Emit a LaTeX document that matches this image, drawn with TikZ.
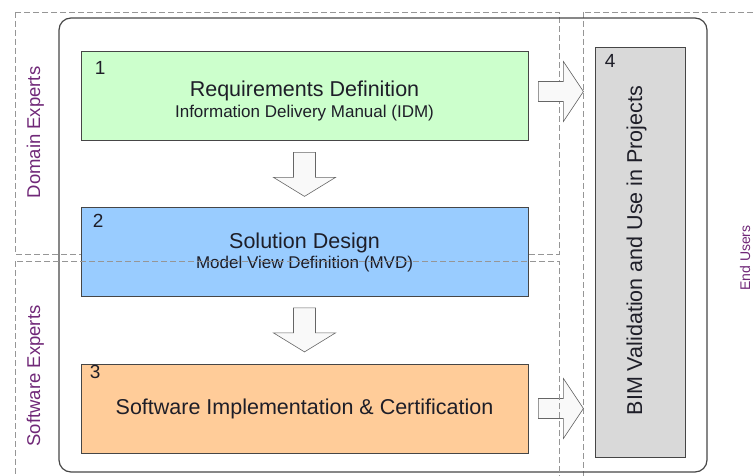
\documentclass[tikz,border=0pt]{standalone}
\usepackage{fontspec}
\setmainfont{Liberation Sans}
\usetikzlibrary{positioning}

\definecolor{reqGreen}{RGB}{204,255,204}
\definecolor{solBlue}{RGB}{153,204,255}
\definecolor{impOrange}{RGB}{255,204,153}
\definecolor{useGray}{RGB}{217,217,217}
\definecolor{boxEdge}{RGB}{70,70,70}
\definecolor{roleLine}{RGB}{150,150,150}
\definecolor{rolePurple}{RGB}{112,40,120}
\definecolor{textDark}{RGB}{30,30,40}

\tikzset{
  phase/.style={draw=boxEdge, line width=0.8pt, minimum width=447pt,
    minimum height=89pt, inner sep=0pt},
  role/.style={draw=roleLine, line width=0.6pt, dash pattern=on 6pt off 3pt},
  blockarrow/.style={draw=gray!80!black, fill=gray!5, line width=0.6pt},
  title/.style={font=\fontsize{21.5}{24}\selectfont, text=textDark, inner sep=0pt},
  subtitle/.style={font=\fontsize{17}{20}\selectfont, text=textDark, inner sep=0pt},
  num/.style={font=\fontsize{19}{22}\selectfont, text=textDark, inner sep=0pt, anchor=base west},
  rolelabel/.style={font=\fontsize{18.5}{22}\selectfont, text=rolePurple, inner sep=0pt,
    rotate=90, anchor=base}
}

\begin{document}
\begin{tikzpicture}[x=1pt,y=-1pt]
  \useasboundingbox (0,0) rectangle (753,476);
  % Role regions (domain one lies under the boxes)
  \draw[role] (15,12) rectangle (559,254);
  \draw[role] (583,12) rectangle (770,495);
  % Frame round the process
  \draw[boxEdge, line width=1.2pt, rounded corners=12pt] (59,18) rectangle (707,472);
  % Phases
  \node[phase, fill=reqGreen] (req) at (304.5,95.5) {};
  \node[phase, fill=solBlue] (sol) at (304.5,252) {};
  \node[phase, fill=impOrange] (imp) at (304.5,408.5) {};
  \node[phase, fill=useGray, minimum width=90pt, minimum height=410pt] (use) at (640,252) {};
  % Block arrows down between phases
  \coordinate (d1) at ([shift={(0,12)}]req.south);
  \coordinate (d2) at ([shift={(0,11)}]sol.south);
  \foreach \p in {d1,d2}
    \draw[blockarrow] (\p) ++(-11,0) -- ++(0,25) -- ++(-20,0) -- ++(31,19)
      -- ++(31,-19) -- ++(-20,0) -- ++(0,-25) -- cycle;
  % Block arrows right into phase 4
  \coordinate (r1) at ([shift={(10,-4)}]req.east);
  \coordinate (r2) at ([shift={(10,0)}]imp.east);
  \foreach \p in {r1,r2}
    \draw[blockarrow] (\p) ++(0,-10) -- ++(25,0) -- ++(0,-20) -- ++(20,30)
      -- ++(-20,30) -- ++(0,-20) -- ++(-25,0) -- cycle;
  % Texts in the phases
  \node[num] (reqN) at ([shift={(14,24)}]req.north west) {1};
  \node[title, anchor=base] (reqT) at ([shift={(0,1.5)}]req.center) {Requirements Definition};
  \node[subtitle, anchor=base] (reqS) at ([shift={(0,22.5)}]req.center) {Information Delivery Manual (IDM)};
  \node[num] (solN) at ([shift={(12,20)}]sol.north west) {2};
  \node[title, anchor=base] (solT) at ([shift={(0,-4)}]sol.center) {Solution Design};
  \node[subtitle, anchor=base] (solS) at ([shift={(0,16)}]sol.center) {Model View Definition (MVD)};
  \node[num] (impN) at ([shift={(9,15)}]imp.north west) {3};
  \node[title, anchor=base] (impT) at ([shift={(0,5.5)}]imp.center) {Software Implementation \& Certification};
  \node[num] (useN) at ([shift={(10,21)}]use.north west) {4};
  \node[title, rotate=90, anchor=base] (useT) at ([shift={(2,-1.5)}]use.center) {BIM Validation and Use in Projects};
  % Role labels
  \node[rolelabel] (domL) at (40,132.5) {Domain Experts};
  \node[rolelabel] (softL) at (40,376) {Software Experts};
  \node[rolelabel, font=\fontsize{14}{16}\selectfont] (endL) at (750,258) {End Users};
  % Software region drawn last, over the design box
  \draw[role] (15,261) rectangle (559,495);
\end{tikzpicture}
\end{document}
